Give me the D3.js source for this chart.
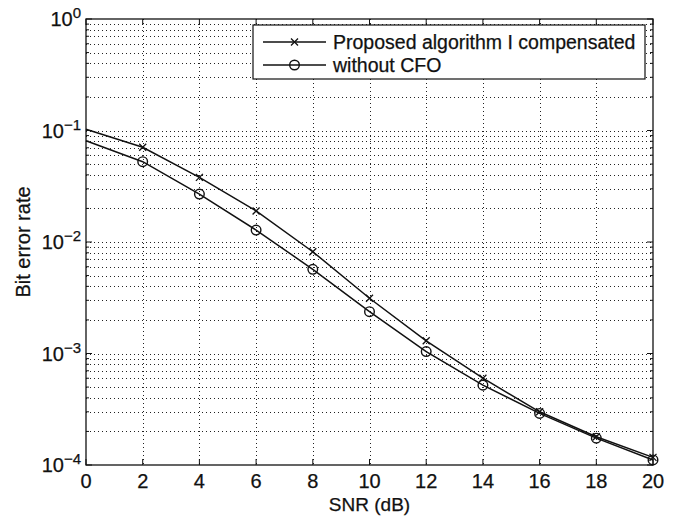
<!DOCTYPE html>
<html>
<head>
<meta charset="utf-8">
<script src="https://cdn.jsdelivr.net/npm/d3@7"></script>
<style>
  body { margin: 0; background: #fff; }
  text { font-family: "Liberation Sans", Arial, sans-serif; fill: #111; stroke: #111; stroke-width: 0.25px; }
</style>
</head>
<body>
<svg id="chart" width="679" height="520"></svg>
<script>
// SNR values (dB)
var snr = [0, 2, 4, 6, 8, 10, 12, 14, 16, 18, 20];
// proposed algorithm I compensated (x markers)
var berProposed = [0.1026, 0.0707, 0.038, 0.019, 0.00818, 0.00313, 0.0013, 0.0006, 0.0003, 0.000179, 0.000117];
// without CFO (o markers)
var berNoCfo = [0.081, 0.0525, 0.0269, 0.0128, 0.00569, 0.00237, 0.00104, 0.00052, 0.00029, 0.000174, 0.000111];
var xTicks = [0, 2, 4, 6, 8, 10, 12, 14, 16, 18, 20];
var yDecades = [0, -1, -2, -3, -4];
var legendLabels = ["Proposed algorithm I compensated", "without CFO"];

var margin = {left: 86, right: 26, top: 19, bottom: 55};
var W = 679, H = 520;
var svg = d3.select("#chart");

var x = d3.scaleLinear().domain([0, 20]).range([margin.left, W - margin.right]);
var y = d3.scaleLog().domain([1e-4, 1]).range([H - margin.bottom, margin.top]);

// minor values for grid/ticks
var minors = [];
yDecades.forEach(function(e) {
  if (e == 0) return;
  for (var k = 2; k <= 9; k++) minors.push(k * Math.pow(10, e));
});
var majors = yDecades.map(function(e) { return Math.pow(10, e); });

var grid = svg.append("g").attr("stroke", "#222").attr("stroke-width", 1)
  .attr("stroke-dasharray", "1,3");
grid.selectAll("line.gx").data(xTicks.slice(1, -1)).enter().append("line")
  .attr("x1", function(d) { return Math.round(x(d)) + 0.5; })
  .attr("x2", function(d) { return Math.round(x(d)) + 0.5; })
  .attr("y1", y(1)).attr("y2", y(1e-4));
grid.selectAll("line.gy").data(minors.concat(majors.slice(1, -1))).enter().append("line")
  .attr("x1", x(0)).attr("x2", x(20))
  .attr("y1", function(d) { return Math.round(y(d)) + 0.5; })
  .attr("y2", function(d) { return Math.round(y(d)) + 0.5; });

// box
svg.append("rect").attr("x", x(0)).attr("y", y(1))
  .attr("width", x(20) - x(0)).attr("height", y(1e-4) - y(1))
  .attr("fill", "none").attr("stroke", "#111").attr("stroke-width", 1.3);

// ticks inside the box
var tk = svg.append("g").attr("stroke", "#111").attr("stroke-width", 1);
xTicks.forEach(function(d) {
  tk.append("line").attr("x1", x(d)).attr("x2", x(d)).attr("y1", y(1e-4)).attr("y2", y(1e-4) - 6);
  tk.append("line").attr("x1", x(d)).attr("x2", x(d)).attr("y1", y(1)).attr("y2", y(1) + 6);
});
majors.forEach(function(d) {
  tk.append("line").attr("x1", x(0)).attr("x2", x(0) + 6).attr("y1", y(d)).attr("y2", y(d));
  tk.append("line").attr("x1", x(20)).attr("x2", x(20) - 6).attr("y1", y(d)).attr("y2", y(d));
});
minors.forEach(function(d) {
  tk.append("line").attr("x1", x(0)).attr("x2", x(0) + 3).attr("y1", y(d)).attr("y2", y(d));
  tk.append("line").attr("x1", x(20)).attr("x2", x(20) - 3).attr("y1", y(d)).attr("y2", y(d));
});

// tick labels
svg.selectAll("text.xt").data(xTicks).enter().append("text")
  .attr("x", function(d) { return x(d); }).attr("y", y(1e-4) + 22.5)
  .attr("text-anchor", "middle").style("font-size", "20px").text(function(d) { return d; });

yDecades.forEach(function(e) {
  var t = svg.append("text").attr("x", x(0) - 5).attr("y", y(Math.pow(10, e)) + 7)
    .attr("text-anchor", "end").style("font-size", "20px");
  t.append("tspan").text("10");
  t.append("tspan").attr("dy", -8).style("font-size", "15px")
    .text(e == 0 ? "0" : "\u2212" + (-e));
});

// axis labels
svg.append("text").attr("x", (x(0) + x(20)) / 2).attr("y", 511)
  .attr("text-anchor", "middle").style("font-size", "19px").text("SNR (dB)");
svg.append("text").attr("transform", "translate(30," + (y(1e-2)) + ") rotate(-90)")
  .attr("text-anchor", "middle").style("font-size", "20px").text("Bit error rate");

// curves
var line = d3.line().x(function(d) { return x(d[0]); }).y(function(d) { return y(d[1]); });
var series = [d3.zip(snr, berProposed), d3.zip(snr, berNoCfo)];
svg.selectAll("path.curve").data(series).enter().append("path")
  .attr("d", line).attr("fill", "none").attr("stroke", "#111").attr("stroke-width", 1.5);

function crossMark(g, cx, cy) {
  g.append("path").attr("d", "M" + (cx - 3.5) + "," + (cy - 3.5) + "L" + (cx + 3.5) + "," + (cy + 3.5) +
    "M" + (cx - 3.5) + "," + (cy + 3.5) + "L" + (cx + 3.5) + "," + (cy - 3.5))
    .attr("stroke", "#111").attr("stroke-width", 1.3);
}
function circleMark(g, cx, cy) {
  g.append("circle").attr("cx", cx).attr("cy", cy).attr("r", 4.8)
    .attr("fill", "none").attr("stroke", "#111").attr("stroke-width", 1.4);
}
var mk = svg.append("g");
series[0].forEach(function(d) { if (d[0] > 0) crossMark(mk, x(d[0]), y(d[1])); });
series[1].forEach(function(d) { if (d[0] > 0) circleMark(mk, x(d[0]), y(d[1])); });

// legend
var lg = svg.append("g");
lg.append("rect").attr("x", 253).attr("y", 25).attr("width", 392).attr("height", 54)
  .attr("fill", "#fff").attr("stroke", "#111").attr("stroke-width", 1.2);
legendLabels.forEach(function(lab, i) {
  var ly = 42 + i * 23;
  lg.append("line").attr("x1", 263).attr("x2", 326).attr("y1", ly).attr("y2", ly)
    .attr("stroke", "#111").attr("stroke-width", 1.4);
  if (i == 0) crossMark(lg, 294.5, ly); else circleMark(lg, 294.5, ly);
  lg.append("text").attr("x", 333).attr("y", ly + 7).style("font-size", "19.5px").text(lab);
});
</script>
</body>
</html>
